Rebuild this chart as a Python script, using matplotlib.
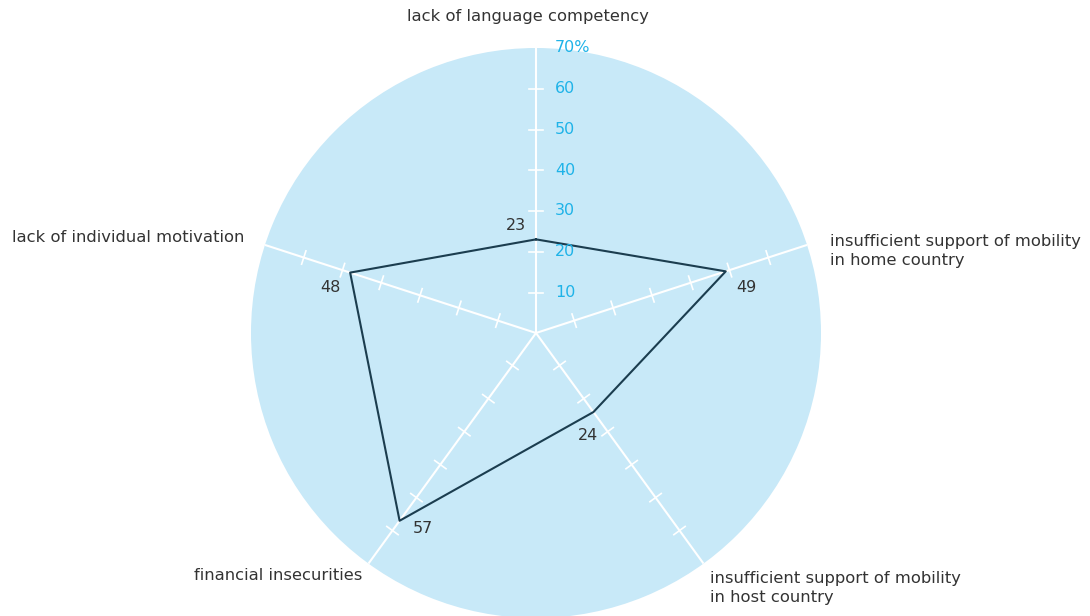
import numpy as np
import matplotlib.pyplot as plt

# datos del gráfico
categorias = ["lack of language competency",
              "insufficient support of mobility\nin home country",
              "insufficient support of mobility\nin host country",
              "financial insecurities",
              "lack of individual motivation"]
valores = [23, 49, 24, 57, 48]
ticks_radiales = [10, 20, 30, 40, 50, 60, 70]
etiquetas_radiales = ["10", "20", "30", "40", "50", "60", "70%"]

fondo = "#c8e9f8"
linea = "#1b3d4f"
cian = "#1fb3e8"
gris = "#333333"

fig = plt.figure(figsize=(10.9, 6.16), dpi=100)
# centro (536, 333) px, radio 285 px
cx, cy, R = 536, 333, 285
W, H = 1090, 616
ax = fig.add_axes([(cx - R) / W, (H - cy - R) / H, 2 * R / W, 2 * R / H], projection="polar")
ax.set_theta_offset(np.pi / 2)
ax.set_theta_direction(-1)
ax.set_ylim(0, 70)
ax.set_facecolor(fondo)
ax.spines["polar"].set_visible(False)
ax.grid(False)
ax.set_xticks([])
ax.set_yticks([])

n = len(valores)
angulos = np.arange(n) * 2 * np.pi / n

# ejes radiales blancos con marcas
px_por_unidad = R / 70
for a in angulos:
    ax.plot([a, a], [0, 70], color="white", lw=1.5, zorder=2)
    for t in ticks_radiales[:-1]:
        d = 7 / (t * px_por_unidad)
        ax.plot([a - d, a + d], [t, t], color="white", lw=1.2, zorder=2)

# polígono de datos
ang_cerrado = np.append(angulos, angulos[0])
val_cerrado = valores + [valores[0]]
ax.plot(ang_cerrado, val_cerrado, color=linea, lw=1.5, zorder=3)

# etiquetas de valores
desplazamientos = [(-20, 14), (21, -16), (-5, -23), (23, -8), (-20, -15)]
for a, v, (dx, dy) in zip(angulos, valores, desplazamientos):
    ax.annotate(str(v), (a, v), xytext=(dx, dy), textcoords="offset pixels",
                ha="center", va="center", fontsize=11.5, color=gris, zorder=4)

# etiquetas radiales
for t, lab in zip(ticks_radiales, etiquetas_radiales):
    ax.annotate(lab, (0, t), xytext=(19, 0), textcoords="offset pixels",
                ha="left", va="center", fontsize=11.5, color=cian, zorder=4,
                annotation_clip=False)

# etiquetas de categorías (posiciones en píxeles de la figura)
pos_cat = [(528, 17, "center"), (830, 251, "left"), (710, 588, "left"),
           (362, 575, "right"), (244, 237, "right")]
for texto, (x, y, ha) in zip(categorias, pos_cat):
    fig.text(x / W, 1 - y / H, texto, ha=ha, va="center", fontsize=11.8,
             color=gris, linespacing=1.4)

fig.savefig("out.png", dpi=100)
